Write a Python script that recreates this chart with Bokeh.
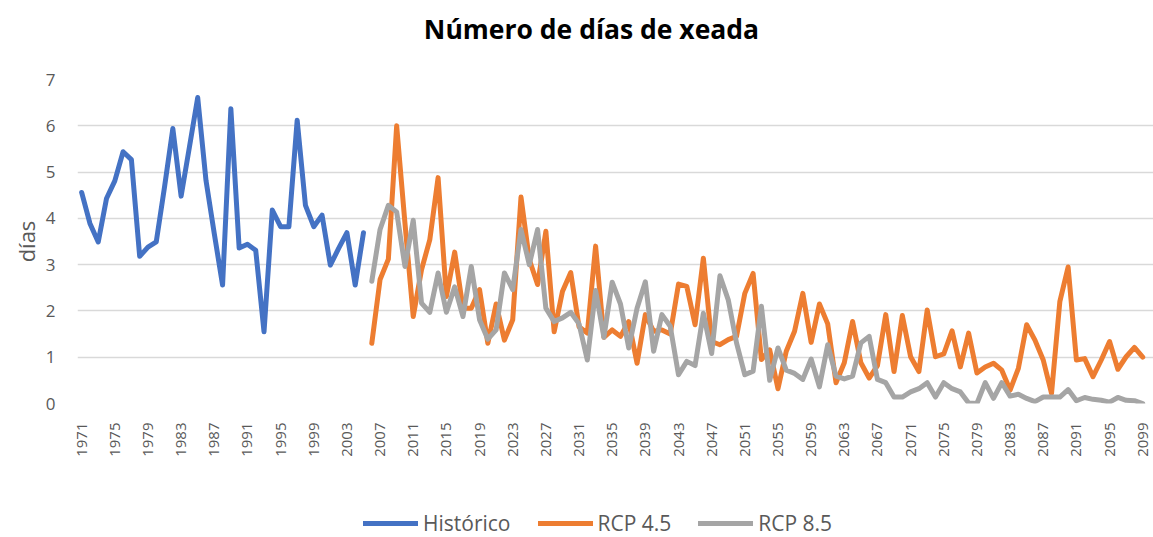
import math
from bokeh.plotting import figure
from bokeh.layouts import column
from bokeh.models import FixedTicker, Legend, LegendItem, Label
from bokeh.embed import file_html
from bokeh.resources import INLINE

years_hist = list(range(1971, 2006))
hist = [4.56, 3.89, 3.49, 4.43, 4.81, 5.44, 5.27, 3.18, 3.38, 3.49,
        4.68, 5.94, 4.48, 5.54, 6.61, 4.82, 3.67, 2.56, 6.37, 3.36,
        3.44, 3.31, 1.55, 4.18, 3.82, 3.82, 6.12, 4.28, 3.82, 4.07,
        2.99, 3.35, 3.69, 2.56, 3.69]

years_rcp = list(range(2006, 2100))
rcp45 = [1.30, 2.68, 3.12, 6.00, 3.90, 1.88, 2.89, 3.54, 4.88, 2.31,
         3.27, 2.06, 2.06, 2.46, 1.30, 2.15, 1.37, 1.81, 4.46, 3.11,
         2.57, 3.72, 1.55, 2.42, 2.83, 1.66, 1.52, 3.40, 1.43, 1.59,
         1.45, 1.77, 0.87, 1.92, 1.56, 1.59, 1.50, 2.58, 2.53, 1.70,
         3.14, 1.34, 1.27, 1.38, 1.45, 2.38, 2.81, 0.95, 1.16, 0.32,
         1.13, 1.56, 2.38, 1.32, 2.15, 1.72, 0.45, 0.88, 1.77, 0.88,
         0.55, 0.82, 1.92, 0.69, 1.90, 1.01, 0.69, 2.02, 1.01, 1.07,
         1.57, 0.79, 1.52, 0.66, 0.79, 0.87, 0.72, 0.29, 0.76, 1.70,
         1.37, 0.94, 0.22, 2.20, 2.95, 0.94, 0.97, 0.58, 0.94, 1.34,
         0.74, 1.01, 1.21, 1.00]
rcp85 = [2.64, 3.76, 4.28, 4.14, 2.96, 3.96, 2.17, 1.97, 2.82, 1.97,
         2.52, 1.88, 2.96, 1.81, 1.39, 1.59, 2.82, 2.46, 3.76, 3.00,
         3.76, 2.06, 1.77, 1.85, 1.97, 1.72, 0.94, 2.44, 1.43, 2.62,
         2.15, 1.20, 2.06, 2.63, 1.13, 1.92, 1.67, 0.62, 0.91, 0.82,
         1.95, 1.08, 2.76, 2.24, 1.31, 0.62, 0.70, 2.10, 0.50, 1.20,
         0.72, 0.65, 0.52, 0.96, 0.36, 1.27, 0.59, 0.53, 0.59, 1.31,
         1.45, 0.52, 0.45, 0.14, 0.14, 0.25, 0.32, 0.45, 0.14, 0.45,
         0.32, 0.25, 0.01, 0.00, 0.45, 0.11, 0.45, 0.16, 0.20, 0.11,
         0.04, 0.14, 0.14, 0.14, 0.30, 0.06, 0.13, 0.09, 0.07, 0.03,
         0.13, 0.07, 0.06, 0.00]

tick_years = list(range(1971, 2100, 4))
series_names = ["Histórico", "RCP 4.5", "RCP 8.5"]
colors = ["#4472C4", "#ED7D31", "#A5A5A5"]
title_text = "Número de días de xeada"
y_label = "días"

FONT = "Open Sans"
GREY = "#595959"
LW = 5


def strip(height):
    # a figure without axes, used for the title and legend rows
    f = figure(width=1153, height=height, output_backend="svg",
               toolbar_location=None, x_range=(0, 1), y_range=(0, 1),
               x_axis_type=None, y_axis_type=None,
               min_border_left=0, min_border_right=0, min_border_top=0,
               min_border_bottom=0)
    f.outline_line_color = None
    f.grid.visible = False
    f.background_fill_color = "white"
    f.border_fill_color = "white"
    return f


# ---------------- title row ----------------
t = strip(60)
t.add_layout(Label(x=514, y=32, x_units="screen", y_units="screen",
                   text=title_text, text_align="center",
                   text_baseline="alphabetic", text_font=FONT,
                   text_font_size="26.5px", text_font_style="bold",
                   text_color="#000000"))

# ---------------- main chart ----------------
p = figure(width=1153, height=415, output_backend="svg", toolbar_location=None,
           x_range=(1970.5, 2100.3), y_range=(0, 7),
           min_border_left=77, min_border_right=0, min_border_top=19,
           min_border_bottom=72)
p.title = None
p.outline_line_color = None
p.background_fill_color = "white"
p.border_fill_color = "white"

xax = p.below[0]
xax.ticker = FixedTicker(ticks=tick_years)
xax.major_label_orientation = math.pi / 2
xax.axis_line_color = None
xax.major_tick_line_color = None
xax.minor_tick_line_color = None
xax.major_tick_out = 0
xax.major_label_standoff = 19
xax.major_label_text_font = FONT
xax.major_label_text_font_size = "15px"
xax.major_label_text_color = GREY

yax = p.left[0]
yax.ticker = FixedTicker(ticks=list(range(0, 8)))
yax.axis_line_color = None
yax.major_tick_line_color = None
yax.minor_tick_line_color = None
yax.major_tick_out = 0
yax.major_label_standoff = 22
yax.major_label_text_font = FONT
yax.major_label_text_font_size = "17px"
yax.major_label_text_color = GREY
yax.axis_label = y_label
yax.axis_label_standoff = 2
yax.axis_label_text_font = FONT
yax.axis_label_text_font_size = "22px"
yax.axis_label_text_font_style = "normal"
yax.axis_label_text_color = GREY

p.xgrid.visible = False
p.ygrid.grid_line_color = "#d9d9d9"
p.ygrid.grid_line_width = 1.3

p.line(years_hist, hist, line_color=colors[0], line_width=LW,
       line_join="round", line_cap="round")
p.line(years_rcp, rcp45, line_color=colors[1], line_width=LW,
       line_join="round", line_cap="round")
p.line(years_rcp, rcp85, line_color=colors[2], line_width=LW,
       line_join="round", line_cap="round")

# ---------------- legend row ----------------
q = strip(62)
# legend proxies: same series, outside this row's visible range
k1 = q.line(years_hist, hist, line_color=colors[0], line_width=LW, line_cap="round")
k2 = q.line(years_rcp, rcp45, line_color=colors[1], line_width=LW, line_cap="round")
k3 = q.line(years_rcp, rcp85, line_color=colors[2], line_width=LW, line_cap="round")
legend = Legend(items=[LegendItem(label=series_names[0], renderers=[k1]),
                       LegendItem(label=series_names[1], renderers=[k2]),
                       LegendItem(label=series_names[2], renderers=[k3])],
                location=(286, 0), orientation="horizontal",
                glyph_width=55, glyph_height=20, label_standoff=5, spacing=27,
                padding=0, margin=0, border_line_color=None,
                background_fill_alpha=0,
                label_text_font=FONT, label_text_font_size="21px",
                label_text_color=GREY)
q.add_layout(legend)

layout = column(t, p, q, spacing=0)
open("out.html", "w").write(file_html(layout, INLINE))
